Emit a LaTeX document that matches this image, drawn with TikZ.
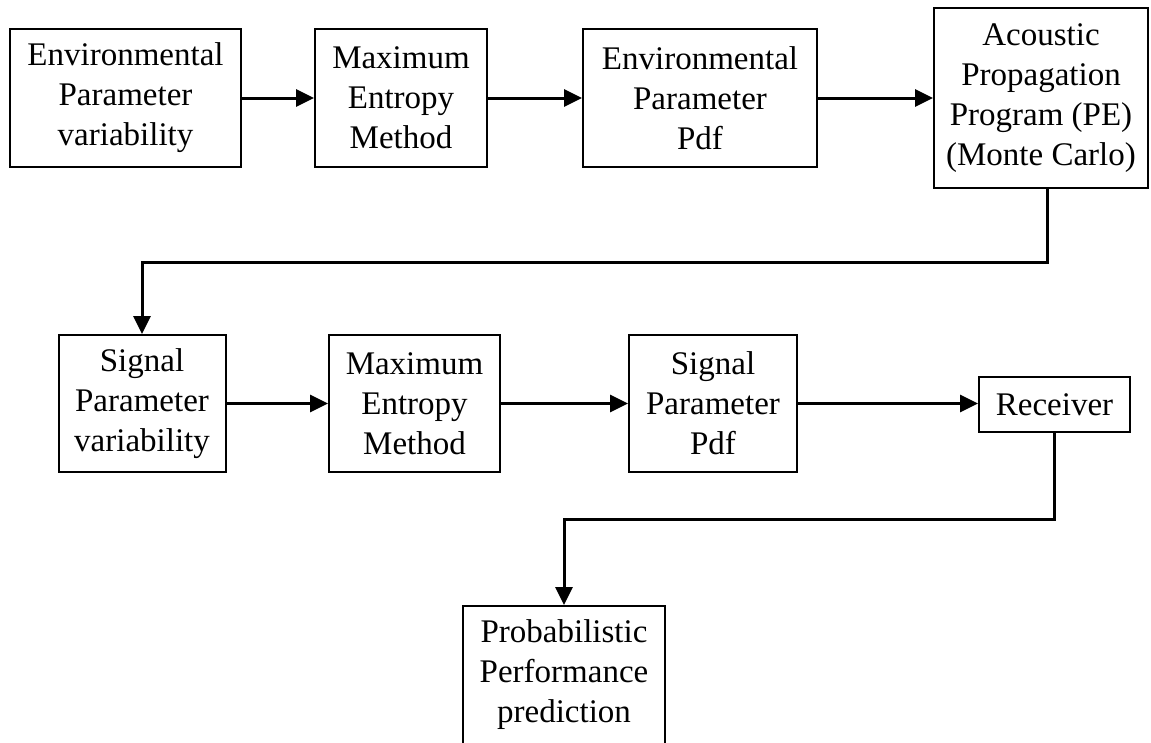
\documentclass[tikz,border=0pt]{standalone}
\usepackage{fontspec}
\setmainfont{Liberation Serif}
\usetikzlibrary{arrows.meta}
\begin{document}
\begin{tikzpicture}[x=1pt,y=-1pt,
  block/.style={draw, line width=2pt, align=center, inner sep=0pt,
    font=\fontsize{33}{40}\selectfont},
  multi/.style={block, execute at begin node={\rule{0pt}{30pt}}},
  conn/.style={line width=3pt, -{Triangle[length=18pt,width=17pt]}}]
\useasboundingbox[fill=white] (0,0) rectangle (1151,742);

% top row
\node[multi, minimum width=231pt, minimum height=138pt] (envvar) at (125.5,98)
  {Environmental\\Parameter\\variability};
\node[multi, minimum width=172pt, minimum height=138pt] (mem1) at (401,98)
  {Maximum\\Entropy\\Method};
\node[multi, minimum width=234pt, minimum height=138pt] (envpdf) at (700,98)
  {Environmental\\Parameter\\Pdf};
\node[multi, minimum width=214pt, minimum height=180pt] (prop) at (1041,98)
  {Acoustic\\Propagation\\Program (PE)\\(Monte Carlo)};

% middle row
\node[multi, minimum width=167pt, minimum height=137pt] (sigvar) at (142,403.5)
  {Signal\\Parameter\\variability};
\node[multi, minimum width=171pt, minimum height=137pt] (mem2) at (414.5,403.5)
  {Maximum\\Entropy\\Method};
\node[multi, minimum width=168pt, minimum height=137pt] (sigpdf) at (713,403.5)
  {Signal\\Parameter\\Pdf};
\node[block, minimum width=151pt, minimum height=55pt] (recv) at (1054.5,404.5)
  {Receiver};

% bottom
\node[multi, minimum width=202pt, minimum height=138pt] (perf) at (564,675)
  {Probabilistic\\Performance\\prediction};

% horizontal flow
\draw[conn] (envvar.east) -- (mem1.west);
\draw[conn] (mem1.east) -- (envpdf.west);
\draw[conn] (envpdf.east) -- (prop.west);
\draw[conn] (sigvar.east) -- (mem2.west);
\draw[conn] (mem2.east) -- (sigpdf.west);
\draw[conn] (sigpdf.east) -- (sigpdf.east -| recv.west);

% return lines between rows
\coordinate (k1) at (1047,262);
\draw[conn] (k1 |- prop.south) -- (k1) -- (k1 -| sigvar.north) -- (sigvar.north);
\coordinate (k2) at (1055,519);
\draw[conn] (recv.south) -- (recv.south |- k2) -- (k2 -| perf.north) -- (perf.north);
\end{tikzpicture}
\end{document}
